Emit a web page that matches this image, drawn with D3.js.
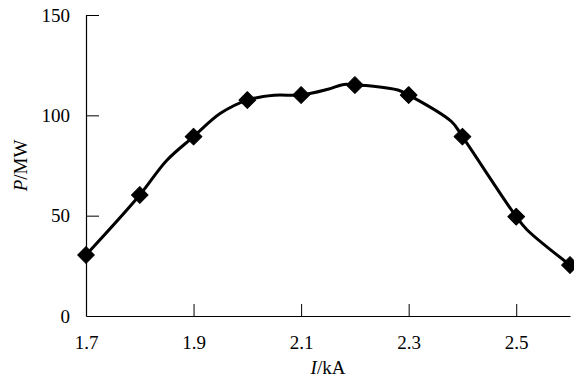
<!DOCTYPE html>
<html>
<head>
<meta charset="utf-8">
<script src="https://cdn.jsdelivr.net/npm/d3@7"></script>
<style>
  body { margin: 0; background: #fff; }
  svg { display: block; }
  text { font-family: "Liberation Serif", "Times New Roman", serif; fill: #000; }
</style>
</head>
<body>
<svg id="chart" width="574" height="383"></svg>
<script>
// measured points (markers)
const current = [1.7, 1.8, 1.9, 2.0, 2.1, 2.2, 2.3, 2.4, 2.5, 2.6];
const power = [30.4, 60.3, 89.4, 107.6, 110.1, 115.1, 110.1, 89.4, 49.5, 25.4];

// smoothed trend line
const lineI = [1.7, 1.8, 1.85, 1.9, 1.95, 2.0, 2.05, 2.1, 2.15, 2.18, 2.2, 2.23, 2.28, 2.3, 2.38, 2.4, 2.5, 2.52, 2.6];
const lineP = [30.4, 60.3, 77.5, 89.4, 101, 107.6, 110, 110.1, 113, 115.4, 115.1, 114.6, 112.6, 110.1, 96.8, 89.4, 49.5, 43, 25.4];

const xTicks = [1.7, 1.9, 2.1, 2.3, 2.5];
const yTicks = [0, 50, 100, 150];

const margin = { top: 15, right: 4, bottom: 67, left: 86 };
const width = 574, height = 383;

const $svg = d3.select("#chart");

const x = d3.scaleLinear()
    .domain([1.7, 2.6])
    .range([margin.left, width - margin.right]);

const y = d3.scaleLinear()
    .domain([0, 150])
    .range([height - margin.bottom, margin.top]);

// Axes (ticks point inward)
const xAxis = d3.axisBottom(x)
    .tickValues(xTicks)
    .tickSizeInner(-12)
    .tickSizeOuter(0)
    .tickPadding(20)
    .tickFormat(d3.format(".1f"));

const yAxis = d3.axisLeft(y)
    .tickValues(yTicks)
    .tickSizeInner(-13)
    .tickSizeOuter(0)
    .tickPadding(16);

const $xAxis = $svg.append("g")
    .attr("transform", `translate(0,${height - margin.bottom})`)
    .call(xAxis);

const $yAxis = $svg.append("g")
    .attr("transform", `translate(${margin.left},0)`)
    .call(yAxis);

[$xAxis, $yAxis].forEach($a => {
    $a.selectAll(".domain").attr("stroke", "#000").attr("stroke-width", 1.2);
    $a.selectAll(".tick line").attr("stroke", "#000").attr("stroke-width", 1);
    $a.selectAll(".tick text")
      .attr("font-family", "Liberation Serif")
      .attr("font-size", 19)
      .attr("fill", "#000");
});
// no tick on the y axis itself for 1.7
$xAxis.selectAll(".tick").filter(d => d === 1.7).select("line").remove();
$yAxis.selectAll(".tick").filter(d => d === 0).select("line").remove();

// Axis titles
const $xTitle = $svg.append("text")
    .attr("x", (x.range()[0] + x.range()[1]) / 2)
    .attr("y", height - 9)
    .attr("text-anchor", "middle")
    .attr("font-size", 19);
$xTitle.append("tspan").attr("font-style", "italic").text("I");
$xTitle.append("tspan").text("/kA");

const $yTitle = $svg.append("text")
    .attr("transform", `translate(27,${(y.range()[0] + y.range()[1]) / 2}) rotate(-90)`)
    .attr("text-anchor", "middle")
    .attr("font-size", 19);
$yTitle.append("tspan").attr("font-style", "italic").text("P");
$yTitle.append("tspan").text("/MW");

// Line
const line = d3.line()
    .x(i => x(lineI[i]))
    .y(i => y(lineP[i]))
    .curve(d3.curveCatmullRom.alpha(0.5));

$svg.append("path")
    .datum(d3.range(lineI.length))
    .attr("d", line)
    .attr("fill", "none")
    .attr("stroke", "#000")
    .attr("stroke-width", 3)
    .attr("stroke-linejoin", "round");

// Diamond markers
const marker = d3.symbol().type(d3.symbolSquare).size(140);

$svg.append("g")
  .selectAll("path")
  .data(d3.range(current.length))
  .join("path")
    .attr("d", marker)
    .attr("transform", i => `translate(${x(current[i])},${y(power[i])}) rotate(45)`)
    .attr("fill", "#000")
    .attr("stroke", "#000")
    .attr("stroke-width", 1)
    .attr("stroke-linejoin", "round");
</script>
</body>
</html>
